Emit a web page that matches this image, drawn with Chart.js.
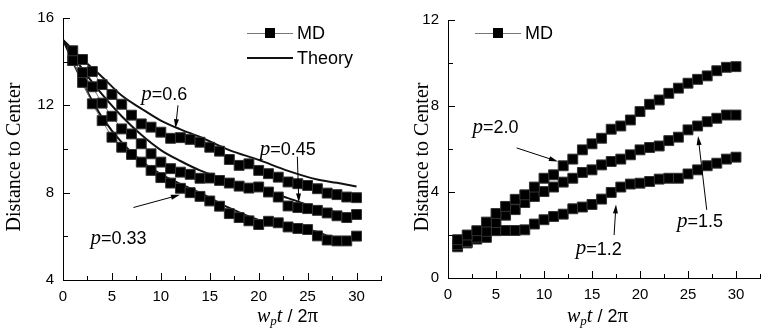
<!DOCTYPE html>
<html lang="en">
<head>
<meta charset="UTF-8">
<title>Distance to Center</title>
<script src="https://cdn.jsdelivr.net/npm/chart.js"></script>
<style>
  * { margin: 0; padding: 0; box-sizing: border-box; }
  body { background: #fff; width: 768px; height: 330px; overflow: hidden; position: relative; }
  #left { position: absolute; left: 0; top: 0; }
  #right { position: absolute; left: 390px; top: 0; }
</style>
</head>
<body>
<canvas id="left" width="390" height="330"></canvas>
<canvas id="right" width="378" height="330"></canvas>

<script>
// time steps (w_p t / 2pi) of the MD samples
const steps = [1, 2, 3, 4, 5, 6, 7, 8, 9, 10, 11, 12, 13, 14, 15,
               16, 17, 18, 19, 20, 21, 22, 23, 24, 25, 26, 27, 28, 29, 30];

// left panel, MD
const mdP060 = [14.5, 14.1, 13.55, 12.95, 12.5, 12.05, 11.55, 11.15, 11.0, 10.77,
                10.49, 10.52, 10.44, 10.31, 10.08, 9.9, 9.52, 9.25, 9.32, 9.02,
                8.87, 8.71, 8.49, 8.41, 8.33, 8.18, 7.98, 7.91, 7.8, 7.77];
const mdP045 = [14.05, 13.5, 12.85, 12.1, 11.5, 10.92, 10.69, 10.24, 9.78, 9.4,
                9.1, 8.94, 8.84, 8.66, 8.67, 8.56, 8.44, 8.3, 8.21, 8.26,
                8.03, 7.8, 7.39, 7.32, 7.27, 7.19, 7.07, 6.94, 6.86, 7.0];
const mdP033 = [14.05, 13.05, 12.07, 11.3, 10.54, 10.08, 9.75, 9.4, 9.02, 8.69,
                8.44, 8.2, 8.0, 7.83, 7.62, 7.38, 7.04, 6.86, 6.71, 6.54,
                6.69, 6.62, 6.43, 6.36, 6.31, 6.02, 5.83, 5.79, 5.79, 6.01];

// left panel, theory curves (read at these times)
const theoryT = [0, 1, 2, 3, 4, 6, 8, 10, 12, 14, 17, 20, 23, 26, 28, 30];
const thP060 = [15, 14.55, 14.1, 13.7, 13.3, 12.45, 11.85, 11.3, 10.9, 10.55, 9.95, 9.5, 9.0, 8.6, 8.45, 8.28];
const thP045 = [15, 14.3, 13.65, 13.05, 12.5, 11.5, 10.65, 9.95, 9.45, 9.02, 8.55, 8.18, 7.75, 7.3, 7.1, 6.88];
const thP033 = [15, 14.0, 13.05, 12.2, 11.45, 10.3, 9.45, 8.85, 8.4, 8.0, 7.3, 6.75, 6.5, 6.2, 5.9, 5.95];

// right panel, MD
const mdP20 = [1.78, 2.0, 2.2, 2.6, 3.0, 3.33, 3.66, 3.87, 4.23, 4.64,
               4.8, 5.22, 5.53, 5.96, 6.24, 6.5, 6.92, 7.07, 7.35, 7.74,
               8.08, 8.28, 8.59, 8.83, 9.06, 9.24, 9.4, 9.64, 9.8, 9.83];
const mdP15 = [1.55, 1.7, 1.9, 2.17, 2.58, 2.92, 3.18, 3.51, 3.79, 4.02,
               4.23, 4.46, 4.64, 4.91, 5.03, 5.26, 5.42, 5.53, 5.73, 5.96,
               6.07, 6.14, 6.39, 6.55, 6.89, 7.07, 7.27, 7.43, 7.58, 7.58];
const mdP12 = [1.45, 1.63, 1.81, 1.89, 2.2, 2.21, 2.21, 2.24, 2.51, 2.71,
               2.86, 2.97, 3.22, 3.3, 3.42, 3.67, 3.98, 4.23, 4.37, 4.41,
               4.49, 4.6, 4.64, 4.64, 4.84, 5.03, 5.22, 5.34, 5.53, 5.62];

const SANS = "'Liberation Sans', Arial, sans-serif";
const SERIF = "'Liberation Serif', 'Times New Roman', serif";

function pts(xs, ys) { return xs.map((x, i) => ({ x: x, y: ys[i] })); }

function mdSet(ys) {
    return {
        data: pts(steps, ys), showLine: true, borderColor: '#777', borderWidth: 1,
        pointStyle: 'rect', pointRadius: 7, pointBackgroundColor: '#000',
        pointBorderColor: '#333', pointBorderWidth: 1
    };
}
function theorySet(ys) {
    return {
        data: pts(theoryT, ys), borderColor: '#111', borderWidth: 2, pointRadius: 0,
        cubicInterpolationMode: 'monotone'
    };
}

// inward tick marks
const innerTicks = {
    id: 'innerTicks',
    afterDraw(chart) {
        const ctx = chart.ctx, xs = chart.scales.x, ys = chart.scales.y;
        ctx.save();
        ctx.strokeStyle = '#000';
        ctx.lineWidth = 1;
        ctx.beginPath();
        xs.ticks.forEach(t => {
            const px = Math.round(xs.getPixelForValue(t.value)) + 0.5;
            const len = t.value % 5 === 0 ? 7 : 4;
            ctx.moveTo(px, ys.bottom);
            ctx.lineTo(px, ys.bottom - len);
        });
        ys.ticks.forEach(t => {
            const py = Math.round(ys.getPixelForValue(t.value)) + 0.5;
            const len = t.value % 4 === 0 ? 7 : 5;
            ctx.moveTo(xs.left, py);
            ctx.lineTo(xs.left + len, py);
        });
        ctx.stroke();
        ctx.restore();
    }
};

// axis titles, legend and p= labels with arrows
const decorations = {
    id: 'decorations',
    afterDraw(chart, args, opts) {
        const ctx = chart.ctx, xs = chart.scales.x, ys = chart.scales.y;
        ctx.save();
        ctx.fillStyle = '#000';
        ctx.strokeStyle = '#000';

        // y title
        ctx.save();
        ctx.translate(opts.yTitleX, (ys.top + ys.bottom) / 2 + 8);
        ctx.rotate(-Math.PI / 2);
        ctx.font = '20px ' + SERIF;
        ctx.textAlign = 'center';
        ctx.textBaseline = 'middle';
        ctx.fillText('Distance to Center', 0, 0);
        ctx.restore();

        // x title: w_p t / 2pi
        let x = opts.xTitleX, y = 322;
        ctx.textBaseline = 'alphabetic';
        ctx.textAlign = 'left';
        ctx.font = 'italic 20px ' + SERIF;
        ctx.fillText('w', x, y); x += ctx.measureText('w').width;
        ctx.font = 'italic 13px ' + SERIF;
        ctx.fillText('p', x, y + 3); x += ctx.measureText('p').width;
        ctx.font = 'italic 20px ' + SERIF;
        ctx.fillText('t', x, y); x += ctx.measureText('t').width;
        ctx.font = '18px ' + SANS;
        ctx.fillText(' / 2', x, y); x += ctx.measureText(' / 2').width;
        ctx.font = '21px ' + SERIF;
        ctx.fillText('\u03c0', x, y);

        // legend
        ctx.textBaseline = 'middle';
        opts.legend.forEach(item => {
            const lx = item.x, ly = item.y;
            if (item.kind === 'md') {
                ctx.strokeStyle = '#777';
                ctx.lineWidth = 1;
                ctx.beginPath();
                ctx.moveTo(lx, ly + 0.5); ctx.lineTo(lx + 46, ly + 0.5);
                ctx.stroke();
                ctx.fillStyle = '#000';
                ctx.fillRect(lx + 18, ly - 5, 10, 10);
            } else {
                ctx.strokeStyle = '#111';
                ctx.lineWidth = 2;
                ctx.beginPath();
                ctx.moveTo(lx, ly); ctx.lineTo(lx + 46, ly);
                ctx.stroke();
            }
            ctx.fillStyle = '#000';
            ctx.font = '18px ' + SANS;
            ctx.fillText(item.text, lx + 50, ly + 1);
        });

        // p= labels
        opts.notes.forEach(n => {
            let tx = xs.getPixelForValue(n.tx), ty = ys.getPixelForValue(n.ty);
            ctx.font = 'italic 21px ' + SERIF;
            ctx.fillText('p', tx, ty - 1);
            tx += ctx.measureText('p').width;
            ctx.font = '18px ' + SANS;
            ctx.fillText('=' + n.label, tx, ty);

            const x1 = xs.getPixelForValue(n.a[0]), y1 = ys.getPixelForValue(n.a[1]);
            const x2 = xs.getPixelForValue(n.a[2]), y2 = ys.getPixelForValue(n.a[3]);
            const ang = Math.atan2(y2 - y1, x2 - x1);
            ctx.strokeStyle = '#000';
            ctx.lineWidth = 1;
            ctx.beginPath();
            ctx.moveTo(x1, y1);
            ctx.lineTo(x2 - 6 * Math.cos(ang), y2 - 6 * Math.sin(ang));
            ctx.stroke();
            ctx.beginPath();
            ctx.moveTo(x2, y2);
            ctx.lineTo(x2 - 9 * Math.cos(ang) + 2.5 * Math.sin(ang), y2 - 9 * Math.sin(ang) - 2.5 * Math.cos(ang));
            ctx.lineTo(x2 - 9 * Math.cos(ang) - 2.5 * Math.sin(ang), y2 - 9 * Math.sin(ang) + 2.5 * Math.cos(ang));
            ctx.closePath();
            ctx.fill();
        });
        ctx.restore();
    }
};

function makeScales(ymin, ymax, yLabelEvery, yWidth, xHeight) {
    return {
        x: {
            type: 'linear', min: 0, max: 32.5,
            grid: { display: true, drawOnChartArea: false, drawTicks: false },
            border: { display: true, color: '#000', width: 1 },
            ticks: {
                stepSize: 2.5, autoSkip: false, maxRotation: 0, padding: 8,
                color: '#000', font: { family: SANS, size: 15 },
                callback: v => (v % 5 === 0 && v <= 30 ? v : '')
            },
            afterFit: s => { s.height = xHeight; }
        },
        y: {
            type: 'linear', min: ymin, max: ymax,
            grid: { display: true, drawOnChartArea: false, drawTicks: false },
            border: { display: true, color: '#000', width: 1 },
            ticks: {
                stepSize: 2, autoSkip: false, padding: 9,
                color: '#000', font: { family: SANS, size: 15 },
                callback: v => (v % yLabelEvery === 0 ? v : '')
            },
            afterFit: s => { s.width = yWidth; }
        }
    };
}

new Chart(document.getElementById('left'), {
    type: 'line',
    data: {
        datasets: [
            mdSet(mdP060), mdSet(mdP045), mdSet(mdP033),
            theorySet(thP060), theorySet(thP045), theorySet(thP033)
        ]
    },
    options: {
        responsive: false, animation: false, devicePixelRatio: 1,
        layout: { padding: { top: 17, right: 9, left: 0, bottom: 0 } },
        scales: makeScales(4, 16, 4, 63, 50),
        plugins: {
            legend: { display: false }, tooltip: { enabled: false },
            decorations: {
                yTitleX: 15, xTitleX: 257,
                legend: [
                    { kind: 'md', x: 247, y: 33, text: 'MD' },
                    { kind: 'th', x: 247, y: 58, text: 'Theory' }
                ],
                notes: [
                    { label: '0.6', tx: 8.0, ty: 12.45, a: [11.75, 12.0, 11.5, 10.95] },
                    { label: '0.45', tx: 20.1, ty: 9.93, a: [23.95, 9.65, 24.1, 7.55] },
                    { label: '0.33', tx: 2.8, ty: 5.86, a: [7.2, 7.32, 11.95, 7.9] }
                ]
            }
        }
    },
    plugins: [innerTicks, decorations]
});

new Chart(document.getElementById('right'), {
    type: 'line',
    data: {
        datasets: [mdSet(mdP20), mdSet(mdP15), mdSet(mdP12)]
    },
    options: {
        responsive: false, animation: false, devicePixelRatio: 1,
        layout: { padding: { top: 20, right: 2, left: 0, bottom: 0 } },
        scales: makeScales(0, 12, 4, 58, 52),
        plugins: {
            legend: { display: false }, tooltip: { enabled: false },
            decorations: {
                yTitleX: 33, xTitleX: 177,
                legend: [
                    { kind: 'md', x: 85, y: 33, text: 'MD' }
                ],
                notes: [
                    { label: '2.0', tx: 2.55, ty: 6.97, a: [7.15, 6.05, 11.45, 5.42] },
                    { label: '1.5', tx: 23.85, ty: 2.58, a: [26.95, 3.17, 26.05, 6.6] },
                    { label: '1.2', tx: 13.3, ty: 1.31, a: [17.3, 2.0, 17.5, 3.42] }
                ]
            }
        }
    },
    plugins: [innerTicks, decorations]
});
</script>
</body>
</html>
